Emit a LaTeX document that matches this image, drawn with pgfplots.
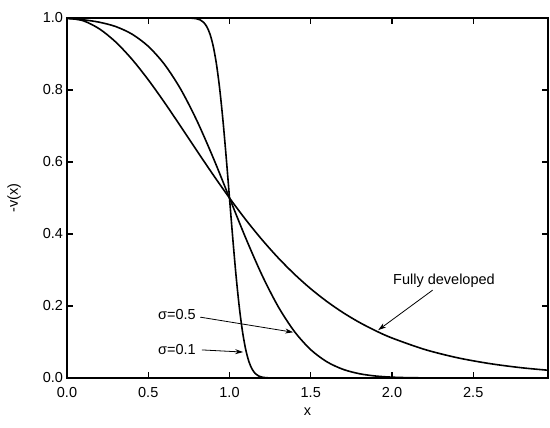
\documentclass[border=0pt]{standalone}
\usepackage{fontspec}
\setmainfont{Liberation Sans}
\usepackage{pgfplots}
\pgfplotsset{compat=1.18}
\usetikzlibrary{arrows.meta}

\begin{document}
\fontsize{14.5}{17}\selectfont
\begin{tikzpicture}
\begin{axis}[
    name=ax,
    scale only axis,
    width=481pt, height=360pt,
    xmin=0, xmax=2.96,
    ymin=0, ymax=1,
    xtick={0,0.5,1,1.5,2,2.5},
    ytick={0,0.2,0.4,0.6,0.8,1},
    tick align=inside,
    major tick length=6pt,
    axis line style={line width=1.6pt},
    every tick/.style={line width=1.2pt, black},
    /pgf/number format/assume math mode=true,
    /pgf/number format/.cd, fixed, fixed zerofill, precision=1, /pgfplots/.cd,
    xticklabel style={yshift=-4pt},
    yticklabel style={xshift=1pt},
    xlabel={x},
    ylabel={-v(x)},
    xlabel style={yshift=-1pt},
    ylabel style={yshift=12pt},
    clip=true,
]
% fully developed profile
\addplot[black, line width=1.6pt, smooth] coordinates {
(0,1) (0.1,0.9923) (0.2,0.9696) (0.3,0.9332) (0.4,0.8853) (0.5,0.8284)
(0.6,0.7653) (0.7,0.6986) (0.8,0.6308) (0.9,0.5641) (1.0,0.5)
(1.1,0.4398) (1.2,0.3842) (1.3,0.3336) (1.4,0.2882) (1.5,0.2478)
(1.6,0.2123) (1.7,0.1812) (1.8,0.1543) (1.9,0.1311) (2.0,0.1111)
(2.2,0.0794) (2.4,0.0565) (2.6,0.0401) (2.8,0.0283) (3.0,0.0200)
};
% sigma = 0.5
\addplot[black, line width=1.6pt, smooth] coordinates {
(0,0.9985) (0.1,0.9950) (0.2,0.9882) (0.3,0.9762) (0.4,0.9552) (0.5,0.9214)
(0.6,0.8711) (0.7,0.8020) (0.8,0.7142) (0.9,0.6114) (1.0,0.5)
(1.1,0.3886) (1.2,0.2858) (1.3,0.1980) (1.4,0.1289) (1.5,0.0786)
(1.6,0.0448) (1.7,0.0238) (1.8,0.0118) (1.9,0.0054) (2.0,0.0023)
(2.1,0.0009) (2.2,0.0004)
};
% sigma = 0.1
\addplot[black, line width=1.6pt, smooth] coordinates {
(0,1) (0.7,1) (0.76,0.9997) (0.8,0.9977) (0.82,0.9946) (0.84,0.9882)
(0.86,0.9762) (0.88,0.9552) (0.90,0.9214) (0.92,0.8711) (0.94,0.8020)
(0.96,0.7142) (0.98,0.6114) (1.0,0.5) (1.02,0.3886) (1.04,0.2858)
(1.06,0.1980) (1.08,0.1289) (1.10,0.0786) (1.12,0.0448) (1.14,0.0238)
(1.16,0.0118) (1.18,0.0054) (1.20,0.0023) (1.24,0.0004) (1.3,0)
};
\node at (axis cs:2.32,0.27) {Fully developed};
\draw[line width=0.8pt, -{Stealth[length=8pt,width=5pt]}] (axis cs:2.25,0.244) -- (axis cs:1.915,0.133);
\node at (axis cs:0.677,0.175) {σ=0.5};
\draw[line width=0.8pt, -{Stealth[length=8pt,width=5pt]}] (axis cs:0.82,0.169) -- (axis cs:1.392,0.127);
\node at (axis cs:0.677,0.078) {σ=0.1};
\draw[line width=0.8pt, -{Stealth[length=8pt,width=5pt]}] (axis cs:0.83,0.078) -- (axis cs:1.084,0.072);
\end{axis}
\path ([xshift=-67pt,yshift=-50pt]ax.south west) rectangle ([xshift=2pt,yshift=18pt]ax.north east);
\end{tikzpicture}
\end{document}
